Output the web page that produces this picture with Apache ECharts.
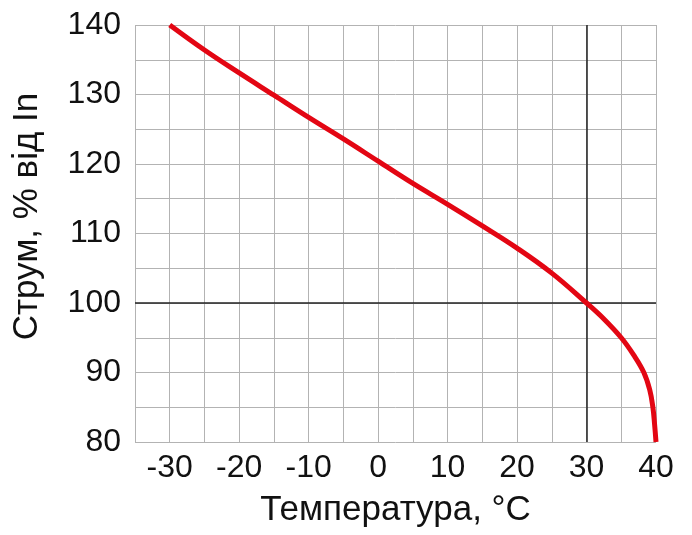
<!DOCTYPE html>
<html>
<head>
<meta charset="utf-8">
<script src="https://cdn.jsdelivr.net/npm/echarts@6/dist/echarts.min.js"></script>
<style>
  html, body { margin: 0; padding: 0; background: #fff; }
  #tempChart { width: 692px; height: 535px; }
</style>
</head>
<body>
<div id="tempChart"></div>
<script>
// температура, °C
const temps = [-30, -25, -20, -15, -10, -5, 0, 5, 10, 15, 20, 25, 30, 32.5, 35, 36.8, 38.25, 39.1, 39.55, 39.8, 40];
// струм, % від In
const currents = [140, 136.4, 133.1, 129.9, 126.7, 123.6, 120.4, 117.2, 114.2, 111.1, 107.9, 104.3, 100, 97.7, 95, 92.5, 90, 87.5, 85, 82.5, 80];

// опорні лінії
const refX = 30;
const refY = 100;

const tempChart = () => {
    var chartDom = document.getElementById('tempChart');
    var myChart = echarts.init(chartDom);

    const font = '"Liberation Sans", Arial, sans-serif';
    const gridLine = { show: true, lineStyle: { color: '#b3b3b3', width: 1 } };

    const seriesData = temps.map((t, i) => [t, currents[i]]);

    myChart.setOption({
        animation: false,
        grid: { left: 135, right: 36, top: 25, bottom: 93 },
        xAxis: {
            type: 'value',
            min: -35, max: 40, interval: 5,
            name: 'Температура, °C',
            nameLocation: 'middle',
            nameGap: 51,
            nameTextStyle: { fontSize: 35, color: '#111', fontFamily: font },
            axisLine: { show: false },
            axisTick: { show: false },
            splitLine: gridLine,
            axisLabel: {
                fontSize: 32, color: '#111', fontFamily: font, margin: 10,
                formatter: (v) => (v % 10 === 0 ? String(v) : '')
            }
        },
        yAxis: {
            type: 'value',
            min: 80, max: 140, interval: 5,
            name: 'Струм, % від In',
            nameLocation: 'middle',
            nameGap: 90,
            nameTextStyle: { fontSize: 35, color: '#111', fontFamily: font, padding: [0, 0, 0, 34] },
            axisLine: { show: false },
            axisTick: { show: false },
            splitLine: gridLine,
            axisLabel: {
                fontSize: 32, color: '#111', fontFamily: font, margin: 14,
                formatter: (v) => (v % 10 === 0 ? String(v) : '')
            }
        },
        series: [
            {
                type: 'line',
                data: seriesData,
                smooth: 0.4,
                showSymbol: false,
                lineStyle: { color: '#e30613', width: 5 },
                z: 5,
                markLine: {
                    silent: true,
                    symbol: 'none',
                    label: { show: false },
                    lineStyle: { color: '#222', width: 1.5, type: 'solid' },
                    data: [{ xAxis: refX }, { yAxis: refY }]
                }
            }
        ]
    });

    new ResizeObserver(() => myChart.resize()).observe(chartDom);
};

tempChart();
</script>
</body>
</html>
